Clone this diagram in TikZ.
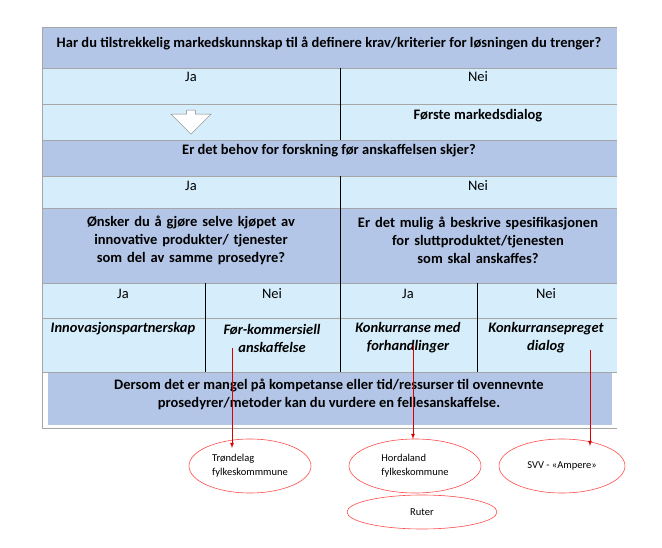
\documentclass[tikz,border=0pt]{standalone}
\usepackage{fontspec}
\setmainfont{Carlito}
\usetikzlibrary{positioning}
\usetikzlibrary{shapes.arrows}
\usetikzlibrary{shapes.geometric}
\definecolor{lav}{HTML}{B4C6E7}
\definecolor{cyan1}{HTML}{D6EEFB}
\newcommand{\tabfont}{\fontsize{14.5}{18}\selectfont}
\tikzset{
  every node/.style={font=\tabfont, inner sep=2pt},
  hline/.style={gray!70, line width=0.8pt},
  vline/.style={black, line width=0.6pt},
  oval/.style={draw=red!70, ellipse, line width=0.6pt, align=left, font=\fontsize{10.5}{14}\selectfont},
  redarrow/.style={red!85!black, line width=0.8pt, -latex}
}
\begin{document}
\hyphenpenalty=10000
\begin{tikzpicture}[x=1pt,y=-1pt]
\useasboundingbox (0,0) rectangle (662,548);

% fills
\fill[lav] (42,27) rectangle (617,68);
\fill[cyan1] (42,68) rectangle (617,140);
\fill[lav] (42,140) rectangle (617,176);
\fill[cyan1] (42,176) rectangle (617,208);
\fill[lav] (42,208) rectangle (617,283);
\fill[cyan1] (42,283) rectangle (617,372);
\fill[lav] (48,372) rectangle (612,425);

% lines
\draw[hline] (42,27) -- (617,27);
\foreach \y in {68,104,140,176,208,283,318,372} \draw[hline] (42,\y) -- (617,\y);
\draw[hline] (42,27) -- (42,428) -- (617,428);
\draw[vline] (340,68) -- (340,140);
\draw[vline] (340,176) -- (340,372);
\draw[vline] (205,283) -- (205,372);
\draw[vline] (477,283) -- (477,372);

% nodes
{
\node[font=\tabfont\bfseries] (q1) at (329,43) {Har du tilstrekkelig markedskunnskap til å definere krav/kriterier for løsningen du trenger?};
\node (ja1) at (191,77) {Ja};
\node (nei1) at (478,77) {Nei};
\node[single arrow, draw=gray, fill=white, shape border rotate=270, minimum height=24pt, minimum width=40pt, single arrow head extend=8pt, inner sep=2pt] (pil) at (191,120) {};
\node[font=\tabfont\bfseries] (dialog) at (478,116) {Første markedsdialog};
\node[font=\tabfont\bfseries] (q2) at (329,151) {Er det behov for forskning før anskaffelsen skjer?};
\node (ja2) at (191,186) {Ja};
\node (nei2) at (478,186) {Nei};
\node[font=\tabfont\bfseries, align=center, text width=285pt] (q3) at (191,240) {Ønsker du å gjøre selve kjøpet av innovative produkter/ tjenester som del av samme prosedyre?};
\node[font=\tabfont\bfseries, align=center, text width=262pt] (q4) at (478,240) {Er det mulig å beskrive spesifikasjonen for sluttproduktet/tjenesten som skal anskaffes?};
\node (ja3) at (123,294) {Ja};
\node (nei3) at (272,294) {Nei};
\node (ja4) at (408,294) {Ja};
\node (nei4) at (546,294) {Nei};
\node[font=\tabfont\bfseries\itshape] (innov) at (123,329) {Innovasjonspartnerskap};
\node[font=\tabfont\bfseries\itshape, align=center] (pcp) at (272,338) {Før-kommersiell\\anskaffelse};
\node[font=\tabfont\bfseries\itshape, align=center] (konk) at (408,338) {Konkurranse med\\forhandlinger};
\node[font=\tabfont\bfseries\itshape, align=center] (dial) at (546,338) {Konkurransepreget\\dialog};
\node[font=\tabfont\bfseries, align=center] (felles) at (329,394) {Dersom det er mangel på kompetanse eller tid/ressurser til ovennevnte\\prosedyrer/metoder kan du vurdere en fellesanskaffelse.};
}

% ovals
\node[oval, minimum width=122pt, minimum height=54pt] (trond) at (250,466) {Trøndelag\\fylkeskommmune};
\node[oval, minimum width=132pt, minimum height=54pt] (horda) at (415,466) {Hordaland\\fylkeskommune};
\node[oval, minimum width=126pt, minimum height=54pt] (svv) at (562,466) {SVV - «Ampere»};
\node[oval, minimum width=150pt, minimum height=34pt] (ruter) at (422,512) {Ruter};

% arrows
\coordinate (a1) at (232,348);
\coordinate (a2) at (413,345);
\coordinate (a3) at (590,350);
\draw[redarrow] (a1) -- (232,448);
\draw[redarrow] (a2) -- (413,439);
\draw[redarrow] (a3) -- (590,446);
\end{tikzpicture}
\end{document}
